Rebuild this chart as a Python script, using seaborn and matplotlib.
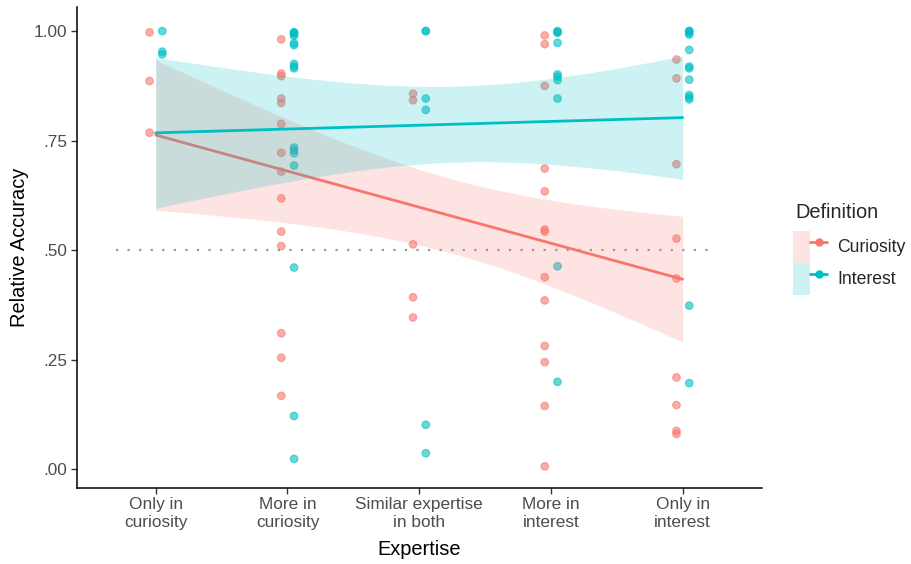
import numpy as np
import pandas as pd
import matplotlib
matplotlib.use("Agg")
import matplotlib.pyplot as plt
import seaborn as sns
from matplotlib.patches import Patch
from matplotlib.lines import Line2D
from matplotlib.legend_handler import HandlerTuple

# ---------------- data ----------------
categories = ["Only in\ncuriosity", "More in\ncuriosity", "Similar expertise\nin both",
              "More in\ninterest", "Only in\ninterest"]
groups = ["Curiosity", "Interest"]
palette = ["#F8766D", "#00BFC4"]

curiosity_only_cur = [0.997, 0.886, 0.768]
curiosity_more_cur = [0.981, 0.903, 0.897, 0.846, 0.836, 0.788, 0.722, 0.679, 0.618,
                      0.542, 0.509, 0.310, 0.254, 0.167]
curiosity_similar = [0.857, 0.842, 0.513, 0.392, 0.346]
curiosity_more_int = [0.990, 0.970, 0.875, 0.686, 0.634, 0.547, 0.542, 0.438, 0.385,
                      0.281, 0.244, 0.144, 0.006]
curiosity_only_int = [0.935, 0.892, 0.696, 0.526, 0.435, 0.209, 0.146, 0.087, 0.080]

interest_only_cur = [1.000, 0.953, 0.947]
interest_more_cur = [0.997, 0.997, 0.993, 0.989, 0.972, 0.968, 0.925, 0.919, 0.915, 0.734,
                     0.728, 0.721, 0.693, 0.460, 0.121, 0.023]
interest_similar = [1.000, 1.000, 0.846, 0.820, 0.101, 0.036]
interest_more_int = [1.000, 0.998, 0.996, 0.973, 0.901, 0.896, 0.888, 0.846, 0.463, 0.199]
interest_only_int = [1.000, 1.000, 0.996, 0.992, 0.957, 0.919, 0.915, 0.889, 0.854, 0.849,
                     0.844, 0.373, 0.196]

y_ticks = [0.0, 0.25, 0.50, 0.75, 1.00]
y_tick_labels = [".00", ".25", ".50", ".75", "1.00"]
chance_level = 0.5

values = {
    "Curiosity": [curiosity_only_cur, curiosity_more_cur, curiosity_similar,
                  curiosity_more_int, curiosity_only_int],
    "Interest": [interest_only_cur, interest_more_cur, interest_similar,
                 interest_more_int, interest_only_int],
}

rows = []
for g in groups:
    for i, vals in enumerate(values[g]):
        for v in vals:
            rows.append({"Expertise": i + 1, "Definition": g, "Accuracy": v})
df = pd.DataFrame(rows)

# ---------------- style ----------------
sns.set_style("ticks")
plt.rcParams["font.family"] = ["Liberation Sans", "DejaVu Sans"]

fig = plt.figure(figsize=(9.11, 5.64), dpi=100)
ax = fig.add_axes([0.0842, 0.1353, 0.7519, 0.8523])

dodge = {"Curiosity": -0.047, "Interest": 0.05}
df["xpos"] = df["Expertise"] + df["Definition"].map(dodge)

sns.scatterplot(data=df, x="xpos", y="Accuracy", hue="Definition", hue_order=groups,
                palette=palette, s=30, alpha=0.6, edgecolor="face", linewidth=0.8,
                legend=False, ax=ax, zorder=2)

# linear fits with t-based 95% CI (like geom_smooth(method="lm"))
def t975(dfree):
    z = 1.959964
    return (z + (z**3 + z) / (4 * dfree) + (5 * z**5 + 16 * z**3 + 3 * z) / (96 * dfree**2)
            + (3 * z**7 + 19 * z**5 + 17 * z**3 - 15 * z) / (384 * dfree**3))

xs = np.linspace(1, 5, 120)
for g, c in zip(groups, palette):
    sub = df[df["Definition"] == g]
    x = sub["Expertise"].to_numpy(float)
    y = sub["Accuracy"].to_numpy(float)
    n = len(x)
    b, a = np.polyfit(x, y, 1)
    resid = y - (a + b * x)
    s = np.sqrt(np.sum(resid**2) / (n - 2))
    sxx = np.sum((x - x.mean())**2)
    pred = a + b * xs
    se = s * np.sqrt(1 / n + (xs - x.mean())**2 / sxx)
    t = t975(n - 2)
    ax.fill_between(xs, pred - t * se, pred + t * se, color=c, alpha=0.2, lw=0, zorder=3)
    ax.plot(xs, pred, color=c, lw=2.0, zorder=3)

ax.plot([0.7, 5.25], [chance_level, chance_level], color="#9a9a9a", lw=1.6,
        ls=(0, (1, 4.2)), zorder=1.5)

ax.set_xlim(0.4, 5.6)
ax.set_ylim(-0.0427, 1.055)
ax.set_xticks(range(1, len(categories) + 1))
ax.set_xticklabels(categories, linespacing=1.2)
ax.set_yticks(y_ticks)
ax.set_yticklabels(y_tick_labels)
ax.tick_params(axis="both", labelsize=12.4, labelcolor="#4D4D4D", color="#333333",
               length=4, width=1.0, pad=3)
for sp in ["top", "right"]:
    ax.spines[sp].set_visible(False)
for sp in ["left", "bottom"]:
    ax.spines[sp].set_color("black")
    ax.spines[sp].set_linewidth(1.1)

ax.set_xlabel("Expertise", fontsize=14.4, color="black", labelpad=7)
ax.set_ylabel("Relative Accuracy", fontsize=14.4, color="black", labelpad=3)

# legend
fig.text(795 / 911, 1 - 212 / 564, "Definition", fontsize=14.4, ha="left", va="center")
handles = [(Patch(facecolor=c, alpha=0.2, lw=0),
            Line2D([], [], color=c, lw=2, marker="o", ms=5)) for c in palette]
fs = 12.7
key_h_pt = 32 * 0.72
key_w_pt = 34 * 0.72
fig.legend(handles, groups, handler_map={tuple: HandlerTuple(ndivide=None)},
           loc="upper left", bbox_to_anchor=(793 / 911, 1 - 231 / 564),
           frameon=False, fontsize=fs, borderpad=0, borderaxespad=0,
           handlelength=key_w_pt / fs,
           handleheight=(key_h_pt / fs - 0.245) / 0.65,
           handletextpad=10 * 0.72 / fs, labelspacing=0)

fig.savefig("out.png", dpi=100)
